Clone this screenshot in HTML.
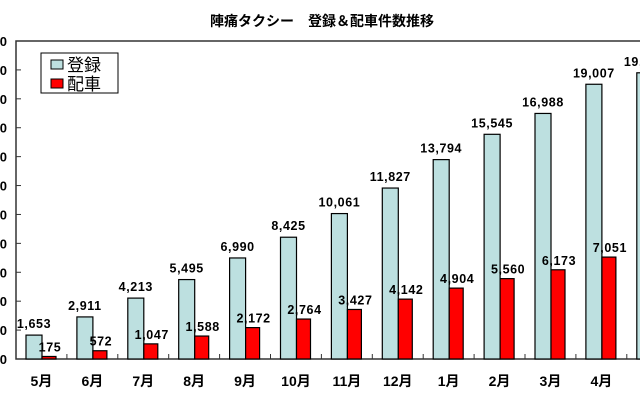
<!DOCTYPE html>
<html><head><meta charset="utf-8"><style>
body{margin:0;background:#fff;width:640px;height:400px;overflow:hidden}
svg{display:block;font-family:"Liberation Sans","Noto Sans CJK JP",sans-serif}
</style></head><body>
<svg id="c" width="640" height="400">
<text x="322" y="26" text-anchor="middle" font-size="14" font-weight="bold">陣痛タクシー　登録＆配車件数推移</text>
<rect x="16" y="41" width="640" height="318" fill="none" stroke="#333" stroke-width="1.5"/>
<g id="bars"></g>
<g>
<rect x="41" y="53" width="77" height="40" fill="#fff" stroke="#000" stroke-width="1"/>
<rect x="51" y="60" width="12" height="9" fill="#bde0e0" stroke="#000"/>
<text x="67" y="71" font-size="17">登録</text>
<rect x="51" y="79" width="12" height="9" fill="#ff0000" stroke="#000"/>
<text x="67" y="90" font-size="17">配車</text>
</g>
</svg>
<script>
const categories=["5月","6月","7月","8月","9月","10月","11月","12月","1月","2月","3月","4月","5月"];
const registrations=[1653,2911,4213,5495,6990,8425,10061,11827,13794,15545,16988,19007,19800];
const dispatches=[175,572,1047,1588,2172,2764,3427,4142,4904,5560,6173,7051,7900];
const yTicks=[0,2000,4000,6000,8000,10000,12000,14000,16000,18000,20000,22000];
const X0=16,CW=50.9,Y0=359,YMAX=22000,PH=318;
const NS="http://www.w3.org/2000/svg";
const g=document.getElementById('bars');
function y(v){return Y0-v/YMAX*PH;}
function cx(i){return X0+i*CW;}
function el(t,a){const e=document.createElementNS(NS,t);for(const k in a)e.setAttribute(k,a[k]);g.appendChild(e);return e;}
const fmt=v=>v.toLocaleString('en-US');
yTicks.forEach((t,i)=>{
 const l=el('line',{x1:X0,x2:X0+5,y1:y(t),y2:y(t),stroke:'#333'});
 
 
 const tx=el('text',{x:X0-9,y:y(t)+5,'text-anchor':'end','font-size':13,'font-weight':'bold'});
 tx.textContent=fmt(t);
 
 
});
categories.forEach((c,i)=>{
 const x=cx(i);
 const tk=el('line',{x1:x+CW,x2:x+CW,y1:Y0,y2:Y0-5,stroke:'#333'});
 
 
 const r1=el('rect',{x:x+10,y:y(registrations[i]),width:16,height:Y0-y(registrations[i]),fill:'#bde0e0',stroke:'#000','stroke-width':1.2});
 
 
 const r2=el('rect',{x:x+26,y:y(dispatches[i]),width:14,height:Y0-y(dispatches[i]),fill:'#ff0000',stroke:'#000','stroke-width':1.2});
 
 
 const t1=el('text',{x:x+18,y:y(registrations[i])-7,'text-anchor':'middle','font-size':12.5,'font-weight':'bold','letter-spacing':'0.6'});
 t1.textContent=fmt(registrations[i]);
 
 
 const t2=el('text',{x:x+34,y:y(dispatches[i])-5,'text-anchor':'middle','font-size':12.5,'font-weight':'bold','letter-spacing':'0.6'});
 t2.textContent=fmt(dispatches[i]);
 
 
 const xl=el('text',{x:x+CW/2,y:386,'text-anchor':'middle','font-size':14,'font-weight':'bold'});
 xl.textContent=c;
 
 
});
</script>
</body></html>
